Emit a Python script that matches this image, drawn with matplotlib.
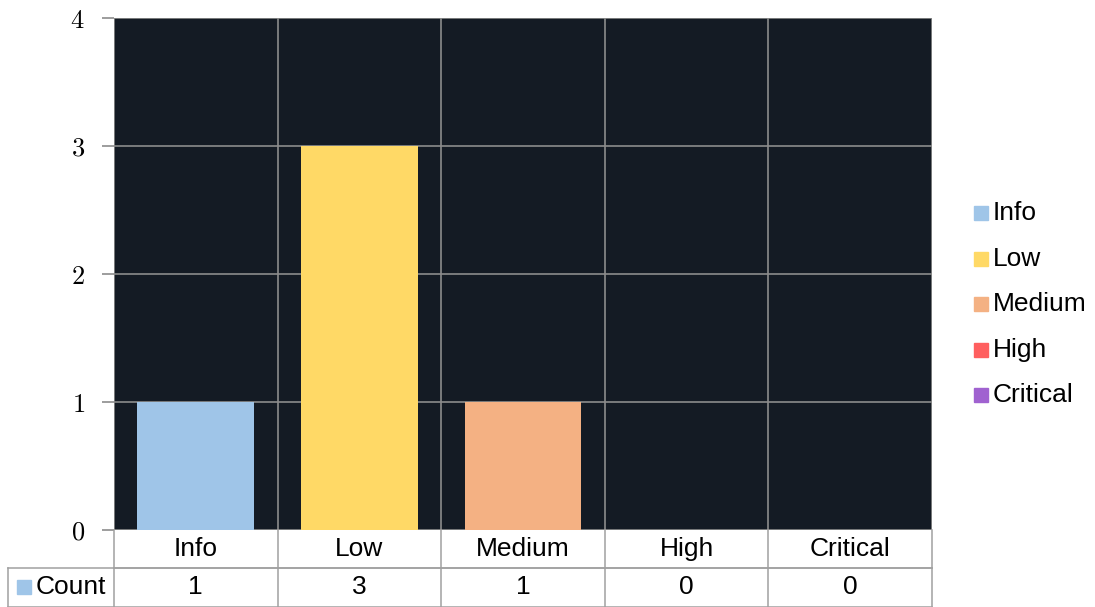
import numpy as np
import matplotlib
matplotlib.use("Agg")
from matplotlib import pyplot as plt
from matplotlib.patches import Rectangle
from matplotlib.lines import Line2D
from matplotlib.transforms import blended_transform_factory

plt.rcParams['font.family'] = ['Liberation Sans', 'DejaVu Sans']
plt.rcParams['mathtext.fontset'] = 'cm'

# data
categories = ["Info", "Low", "Medium", "High", "Critical"]
counts     = [1, 3, 1, 0, 0]
colors     = ["#9fc5e8", "#ffd966", "#f4b183", "#ff5f5f", "#a062d0"]
yticks     = [0, 1, 2, 3, 4]

W, H = 1095, 607
fig = plt.figure(figsize=(W / 100, H / 100), dpi=100)
ax = fig.add_axes([114 / W, 1 - 530 / H, (932 - 114) / W, (530 - 18) / H])
ax.set_facecolor("#141b24")

x = np.arange(len(categories))
ax.bar(x, counts, width=0.715, color=colors, zorder=3)
ax.set_xlim(-0.5, len(categories) - 0.5)
ax.set_ylim(0, 4)

# grid
gcol = "#8c8c8c"
for yv in yticks:
    ax.axhline(yv, color=gcol, lw=1.2, zorder=1)
for xv in np.arange(-0.5, len(categories), 1.0):
    ax.axvline(xv, color=gcol, lw=1.2, zorder=1)
for s in ax.spines.values():
    s.set_visible(False)

ax.set_yticks(yticks)
ax.set_yticklabels(["$%d$" % v for v in yticks], fontsize=19)
ax.tick_params(axis="y", length=9, width=1.2, color=gcol, pad=12)
ax.set_xticks([])

# data table under the axes
rh = 38 / 512
tr = blended_transform_factory(ax.transData, ax.transAxes)
tcol = "#a0a0a0"
lw = 1.1
lx = -0.5 - (114 - 8) / (818 / 5)
def hline(x0, x1, y):
    ax.add_line(Line2D([x0, x1], [y, y], transform=tr, color=tcol, lw=lw, clip_on=False))
def vline(xv, y0, y1):
    ax.add_line(Line2D([xv, xv], [y0, y1], transform=tr, color=tcol, lw=lw, clip_on=False))

bot = -2 * rh - 0.002
hline(-0.5, 4.5, -rh)
hline(lx, 4.5, -rh)
hline(lx, 4.5, bot)
vline(lx, bot, -rh)
for xv in np.arange(-0.5, len(categories), 1.0):
    vline(xv, bot, 0)

for i, (c, n) in enumerate(zip(categories, counts)):
    ax.text(i, -0.5 * rh, c, transform=tr, ha="center", va="center", fontsize=19)
    ax.text(i, -1.5 * rh, str(n), transform=tr, ha="center", va="center", fontsize=19)

fig.patches.append(Rectangle((17 / W, 1 - 594 / H), 14 / W, 14 / H,
                             transform=fig.transFigure, color=colors[0]))
fig.text(36 / W, 1 - 587 / H, "Count", ha="left", va="center", fontsize=19)

# legend
ly = [213, 259, 304, 350, 395]
for c, col, yy in zip(categories, colors, ly):
    fig.patches.append(Rectangle((974 / W, 1 - (yy + 7) / H), 14 / W, 14 / H,
                                 transform=fig.transFigure, color=col))
    fig.text(993 / W, 1 - yy / H, c, ha="left", va="center", fontsize=19)

fig.savefig("out.png", dpi=100)
